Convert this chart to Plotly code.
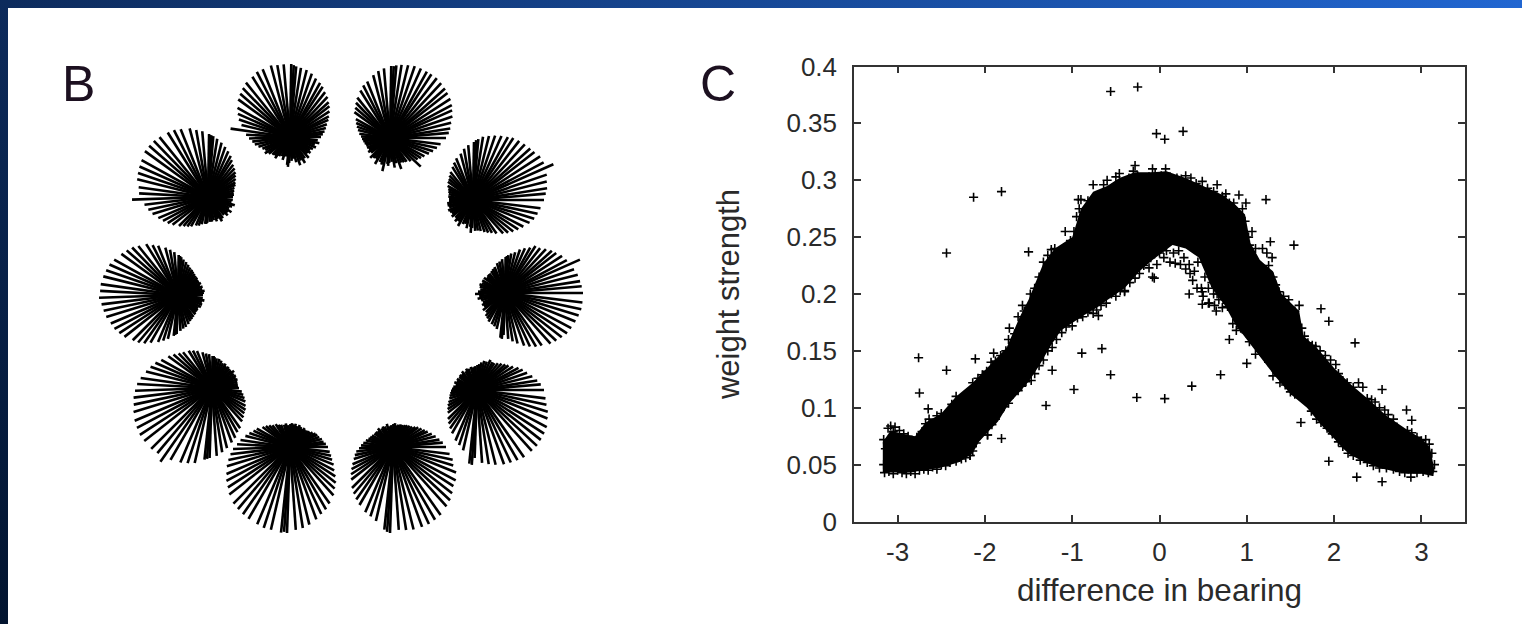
import plotly.graph_objects as go

W, H = 1522, 624

# ---------- panel C: scatter ----------
x_ticks = [-3, -2, -1, 0, 1, 2, 3]
x_tick_labels = ["-3", "-2", "-1", "0", "1", "2", "3"]
y_ticks = [0, 0.05, 0.1, 0.15, 0.2, 0.25, 0.3, 0.35, 0.4]
y_tick_labels = ["0", "0.05", "0.1", "0.15", "0.2", "0.25", "0.3", "0.35", "0.4"]

# outline of the solid mass of overlapping markers
mass_low_x = [-3.17,-3.0,-2.86,-2.7,-2.52,-2.3,-2.14,-2.07,-1.95,-1.85,-1.73,-1.6,-1.49,-1.37,-1.25,-1.13,-1.03,-0.87,-0.72,-0.61,-0.4,-0.23,-0.08,0.15,0.3,0.45,0.6,0.75,0.87,1.0,1.13,1.3,1.5,1.69,1.85,2.0,2.09,2.18,2.35,2.52,2.7,2.85,3.0,3.13]
mass_low_y = [.043,.043,.043,.045,.047,.052,.06,.07,.08,.088,.103,.114,.124,.138,.154,.168,.173,.181,.188,.194,.205,.22,.23,.243,.24,.232,.205,.19,.173,.16,.147,.13,.112,.1,.085,.073,.065,.059,.052,.047,.044,.042,.042,.04]
mass_high_x = [-3.17,-3.08,-2.95,-2.8,-2.68,-2.5,-2.33,-2.14,-1.95,-1.75,-1.6,-1.5,-1.33,-1.2,-1.0,-0.9,-0.76,-0.6,-0.46,-0.285,-0.08,0.08,0.3,0.5,0.7,0.85,0.98,1.04,1.15,1.3,1.4,1.6,1.65,1.8,2.0,2.2,2.4,2.6,2.85,3.0,3.1,3.15]
mass_high_y = [.07,.08,.077,.075,.087,.095,.11,.122,.137,.153,.18,.195,.227,.24,.25,.275,.29,.295,.302,.307,.307,.308,.302,.295,.288,.28,.27,.245,.23,.22,.2,.185,.163,.153,.135,.12,.107,.093,.08,.073,.065,.045]

# individually visible markers on the upper rim of the band
upper_x = [-3.16,-3.14,-3.11,-3.08,-3.05,-3.03,-2.98,-2.93,-2.88,-2.83,-2.78,-2.72,-2.68,-2.64,-2.6,-2.55,-2.5,-2.45,-2.38,-2.33,-2.3,-2.24,-2.19,-2.14,-2.12,-2.08,-2.03,-1.98,-1.93,-1.88,-1.82,-1.76,-1.72,-1.66,-1.62,-1.57,-1.55,-1.48,-1.43,-1.38,-1.33,-1.28,-1.24,-1.2,-1.17,-1.12,-1.06,-1.02,-.98,-.95,-.92,-.93,-.9,-.87,-.82,-.76,-.7,-.64,-.6,-.55,-.5,-.46,-.4,-.35,-.3,-.28,-.25,-.2,-.12,-.08,-.05,.02,.07,.12,.2,.25,.3,.36,.42,.49,.55,.62,.66,.72,.76,.8,.85,.91,.95,.99,.98,1.02,1.06,1.03,1.1,1.18,1.27,1.23,1.29,1.25,1.3,1.33,1.37,1.42,1.48,1.55,1.6,1.63,1.66,1.7,1.75,1.79,1.84,1.9,1.96,2.02,2.05,2.1,2.15,2.22,2.28,2.33,2.38,2.43,2.47,2.52,2.58,2.62,2.68,2.72,2.78,2.84,2.89,2.95,3.0,3.05,3.09,3.12,3.15]
upper_y = [.072,.064,.082,.084,.079,.083,.08,.077,.075,.071,.074,.079,.086,.09,.086,.093,.095,.094,.103,.11,.104,.11,.113,.122,.116,.126,.129,.132,.14,.141,.146,.15,.17,.165,.18,.19,.185,.2,.205,.215,.228,.234,.239,.24,.232,.238,.24,.247,.255,.268,.275,.283,.283,.27,.282,.296,.285,.296,.3,.292,.303,.306,.296,.302,.308,.313,.304,.301,.303,.31,.306,.304,.31,.303,.302,.301,.304,.302,.297,.299,.293,.29,.296,.286,.288,.28,.28,.287,.275,.28,.264,.25,.255,.243,.24,.24,.246,.236,.232,.225,.215,.208,.202,.198,.195,.185,.19,.17,.163,.157,.155,.154,.15,.146,.142,.138,.13,.124,.122,.118,.122,.118,.108,.107,.105,.1,.098,.094,.09,.083,.079,.08,.078,.074,.071,.072,.068,.06,.05]

# individually visible markers on the lower rim of the band
lower_x = [-3.16,-3.15,-3.1,-3.05,-3.0,-2.95,-2.9,-2.85,-2.8,-2.75,-2.7,-2.65,-2.6,-2.55,-2.5,-2.45,-2.4,-2.33,-2.27,-2.22,-2.17,-2.14,-2.1,-2.06,-2.02,-1.97,-1.92,-1.88,-1.84,-1.78,-1.73,-1.68,-1.62,-1.58,-1.53,-1.47,-1.43,-1.38,-1.33,-1.28,-1.23,-1.18,-1.12,-1.07,-1.0,-.94,-.88,-.82,-.76,-.72,-.67,-.61,-.55,-.5,-.45,-.4,-.34,-.28,-.23,-.18,-.12,-.08,-.03,.05,.12,.18,.24,.3,.35,.38,.43,.5,.48,.57,.63,.68,.72,.77,.84,.88,.93,.99,1.04,1.1,1.15,1.2,1.25,1.3,1.38,1.44,1.5,1.55,1.62,1.69,1.74,1.8,1.85,1.92,1.98,2.05,2.1,2.16,2.22,2.3,2.38,2.45,2.52,2.6,2.68,2.75,2.81,2.88,2.95,3.02,3.08,3.13]
lower_y = [.05,.043,.044,.042,.045,.043,.042,.044,.042,.045,.046,.045,.048,.046,.05,.049,.052,.053,.055,.056,.058,.062,.069,.076,.08,.076,.085,.09,.096,.101,.104,.112,.115,.119,.123,.124,.13,.137,.142,.15,.153,.16,.166,.171,.172,.179,.18,.184,.183,.186,.19,.192,.2,.198,.203,.203,.21,.214,.218,.225,.223,.215,.226,.232,.228,.227,.226,.222,.218,.212,.205,.198,.205,.192,.19,.195,.188,.192,.174,.168,.17,.166,.163,.147,.15,.148,.14,.128,.122,.12,.114,.112,.109,.107,.097,.09,.087,.082,.077,.07,.066,.06,.058,.054,.052,.049,.047,.047,.046,.044,.043,.046,.043,.044,.043,.044]

# open markers in the thinner inner part under the peak
inner_x = [-.1,0,.08,.16,.22,.28,.34,.4,.44,.52,.56,.62,.6,.66,.49,.49,.56,.65,.78,.34,-.06,-.4,-.7]
inner_y = [.232,.236,.238,.236,.238,.232,.226,.22,.228,.215,.205,.2,.21,.2,.202,.191,.192,.185,.189,.2,.214,.202,.181]

# isolated points away from the band
outlier_x = [-.56,-.25,-.035,.06,.27,-2.13,-1.81,-2.44,-1.50,-1.08,-1.73,1.22,1.54,1.85,1.94,2.24,.80,1.03,-.66,-2.76,-2.75,-2.44,-2.11,-1.9,-2.65,-1.97,-1.81,-2.17,-1.30,-.98,-1.23,-.89,-.56,-.26,.06,.37,.70,1.0,1.62,1.94,2.26,2.55,2.88,2.83,2.55,2.89]
outlier_y = [.378,.382,.341,.336,.343,.285,.290,.236,.237,.255,.160,.283,.243,.187,.176,.157,.160,.158,.152,.144,.113,.133,.143,.148,.099,.076,.073,.058,.102,.116,.133,.148,.129,.109,.108,.119,.129,.139,.087,.053,.039,.035,.039,.098,.116,.089]

# ---------- panel B: one spoke list per tuned unit ----------
spoke_bearing = [0,5,9,14,19,24,28,33,38,42,
                 47,52,57,61,66,71,76,81,85,87,
                 89,95,100,105,112,117,122,129,134,139,
                 144,151,156,161,166,172,177,182,187,192,
                 197,203,208,213,218,225,230,235,240,247,
                 252,257,264,266,268,274,279,284,290,295,
                 300,305,312,317,322,327,332,338,343,348,
                 353]

unit_1 = [31,33,35,37,39,42,44,47,50,52, 55,57,60,62,64,67,69,70,71,72, 73,73,73,74,73,73,71,70,68,66, 64,60,57,54,50,60,44,41,38,36, 33,30,28,30,27,25,24,26,22,21, 24,20,28,30,26,24,22,26,30,26, 30,26,28,24,26,24,26,28,26,30, 28]
unit_2 = [25,26,26,27,28,30,31,33,35,37, 39,41,44,47,50,53,56,59,61,62, 63,66,68,71,73,75,76,77,78,78, 78,76,75,74,73,70,69,76,64,61, 58,54,51,48,45,41,38,36,34,31, 30,28,27,27,26,25,25,24,26,24, 28,26,24,27,25,28,24,26,28,24, 25]
unit_3 = [25,26,27,25,26,24,26,25,25,26, 26,27,28,29,30,32,34,36,38,39, 40,43,46,49,53,56,60,63,66,68, 70,73,75,76,77,78,78,79,77,76, 75,73,72,70,68,64,62,59,55,51, 48,45,41,40,39,36,34,33,31,29, 28,27,26,25,25,24,26,26,25,27, 25]
unit_4 = [56,59,61,63,66,68,70,72,73,74, 75,76,76,76,76,76,75,74,73,72, 72,70,68,65,61,59,56,52,49,46, 44,39,37,35,33,31,29,28,27,26, 25,25,24,26,24,28,26,25,30,26, 28,34,26,28,25,24,30,26,33,27, 28,29,31,42,35,37,39,42,45,48, 51]
unit_5 = [71,73,75,76,78,88,80,80,78,77, 76,75,74,72,70,68,66,64,61,60, 58,55,52,48,45,42,39,36,34,32, 31,29,27,26,25,25,24,24,26,26, 25,27,26,25,27,25,28,26,30,26, 25,29,27,33,28,31,31,32,34,36, 38,41,45,48,51,54,57,61,64,66, 68]
unit_6 = [78,77,76,75,73,82,70,68,65,63, 60,57,56,52,49,46,42,40,38,37, 36,34,32,31,28,27,26,25,25,24, 26,26,25,27,26,25,27,30,26,28, 25,24,26,25,28,27,30,31,33,34, 35,37,45,46,42,46,49,52,56,59, 62,64,68,70,72,74,75,76,77,78, 78]
unit_7 = [27,26,26,26,27,26,27,26,28,26, 26,27,26,28,27,29,30,30,31,32, 32,34,35,37,40,42,44,46,48,51, 54,58,62,65,68,72,75,77,79,80, 82,84,85,86,86,86,85,90,83,81, 79,77,72,71,70,68,65,62,58,55, 51,49,45,43,41,40,38,36,34,32, 30]
unit_8 = [38,36,34,33,31,30,29,27,25,24, 23,24,22,23,24,22,24,23,24,22, 23,22,24,23,24,25,27,28,30,32, 34,38,40,43,46,50,53,57,60,63, 66,69,72,74,77,80,81,82,83,84, 85,85,86,85,86,83,82,80,77,74, 72,69,65,61,58,54,50,47,44,42, 40]
unit_9 = [53,50,47,44,41,38,36,34,32,30, 28,27,26,25,24,24,23,22,24,22, 23,22,21,24,22,23,22,24,22,23, 23,24,25,26,28,30,32,34,37,39, 41,44,47,50,53,58,61,64,67,71, 73,76,83,85,86,83,84,85,85,85, 84,83,80,78,75,72,71,68,63,61, 57]
unit_10 = [67,64,61,57,53,50,47,43,40,38, 36,34,32,32,33,30,30,28,26,25, 25,24,23,24,23,24,22,24,22,23, 22,23,22,24,22,24,25,26,27,28, 29,31,33,35,37,41,44,47,50,55, 58,62,74,75,68,73,75,77,79,80, 81,82,82,82,81,80,79,76,74,71, 69]

# where each fan's hub sits on the page, in pixels
unit_hub_x = [290, 208, 178, 390, 473, 505, 212, 290, 393, 477]
unit_hub_y = [137, 197, 295, 138, 200, 293, 388, 447, 447, 390]
units = [unit_1, unit_2, unit_3, unit_4, unit_5, unit_6, unit_7, unit_8, unit_9, unit_10]
FAN_BOX = 100  # half-size of each polar box in px; radial range matches

fig = go.Figure()

# gradient page border
fig.add_trace(go.Scatter(x=[0, W, W, 0], y=[0, 0, 8, 8], xaxis="x3", yaxis="y3", mode="none", fill="toself",
                         fillgradient=dict(type="horizontal", colorscale=[[0, "#0d2b5c"], [1, "#2166d1"]]),
                         hoverinfo="skip", showlegend=False))
fig.add_trace(go.Scatter(x=[0, 8, 8, 0], y=[0, 0, H, H], xaxis="x3", yaxis="y3", mode="none", fill="toself",
                         fillgradient=dict(type="vertical", colorscale=[[0, "#02142f"], [1, "#0d2b5c"]]),
                         hoverinfo="skip", showlegend=False))

# panel C
fig.add_trace(go.Scatter(x=mass_low_x + mass_high_x[::-1], y=mass_low_y + mass_high_y[::-1],
                         mode="none", fill="toself", fillcolor="black", hoverinfo="skip", showlegend=False))
fig.add_trace(go.Scatter(x=upper_x + lower_x + inner_x + outlier_x, y=upper_y + lower_y + inner_y + outlier_y,
                         mode="markers", marker=dict(symbol="cross-thin", size=6.5, line=dict(color="black", width=1.6)),
                         showlegend=False))

# panel B
for i, lengths in enumerate(units):
    name = "polar" if i == 0 else f"polar{i + 1}"
    r, theta = [], []
    for a, v in zip(spoke_bearing, lengths):
        r += [0, v, None]
        theta += [a, a, None]
    fig.add_trace(go.Scatterpolar(r=r, theta=theta, mode="lines", subplot=name,
                                  line=dict(color="black", width=2.6), showlegend=False, hoverinfo="skip"))
    cx, cy = unit_hub_x[i], unit_hub_y[i]
    fig.update_layout({name: dict(
        domain=dict(x=[(cx - FAN_BOX) / W, (cx + FAN_BOX) / W],
                    y=[1 - (cy + FAN_BOX) / H, 1 - (cy - FAN_BOX) / H]),
        bgcolor="rgba(0,0,0,0)",
        radialaxis=dict(visible=False, range=[0, FAN_BOX]),
        angularaxis=dict(visible=False),
    )})

axis_col = "#333333"
text_col = "#2a2a2a"
fig.update_layout(
    width=W, height=H, autosize=False, margin=dict(l=0, r=0, t=0, b=0, pad=0, autoexpand=False),
    paper_bgcolor="white", plot_bgcolor="rgba(0,0,0,0)",
    font=dict(family="Liberation Sans", color=text_col),
    xaxis=dict(domain=[854 / W, 1465 / W], range=[-3.5, 3.5], tickvals=x_ticks, ticktext=x_tick_labels, ticks="inside",
               ticklen=7, tickwidth=1.5, tickcolor=axis_col, showline=True, linecolor=axis_col, linewidth=1.5,
               mirror="ticks", showgrid=False, zeroline=False, tickfont=dict(size=26), ticklabelstandoff=7,
               title=dict(text="difference in bearing", font=dict(size=31.5), standoff=12)),
    yaxis=dict(domain=[1 - 521.5 / H, 1 - 66.5 / H], range=[0, 0.4], tickvals=y_ticks, ticktext=y_tick_labels,
               ticks="inside", ticklen=7, tickwidth=1.5, tickcolor=axis_col, showline=True, linecolor=axis_col,
               linewidth=1.5, mirror="ticks", showgrid=False, zeroline=False, tickfont=dict(size=26),
               ticklabelstandoff=10,
               title=dict(text="weight strength", font=dict(size=31), standoff=38)),
    xaxis3=dict(domain=[0, 1], range=[0, W], visible=False, anchor="y3", fixedrange=True),
    yaxis3=dict(domain=[0, 1], range=[H, 0], visible=False, anchor="x3", fixedrange=True),
    annotations=[
        dict(text="B", x=78 / W, y=1 - 84 / H, xref="paper", yref="paper", showarrow=False,
             xanchor="center", yanchor="middle", font=dict(size=50, color="#1c1020")),
        dict(text="C", x=718 / W, y=1 - 84 / H, xref="paper", yref="paper", showarrow=False,
             xanchor="center", yanchor="middle", font=dict(size=50, color="#1c1020")),
    ],
)

fig.write_html("out.html", post_script="document.body.style.margin='0';document.body.style.overflow='hidden';",
               config={"displayModeBar": False})
